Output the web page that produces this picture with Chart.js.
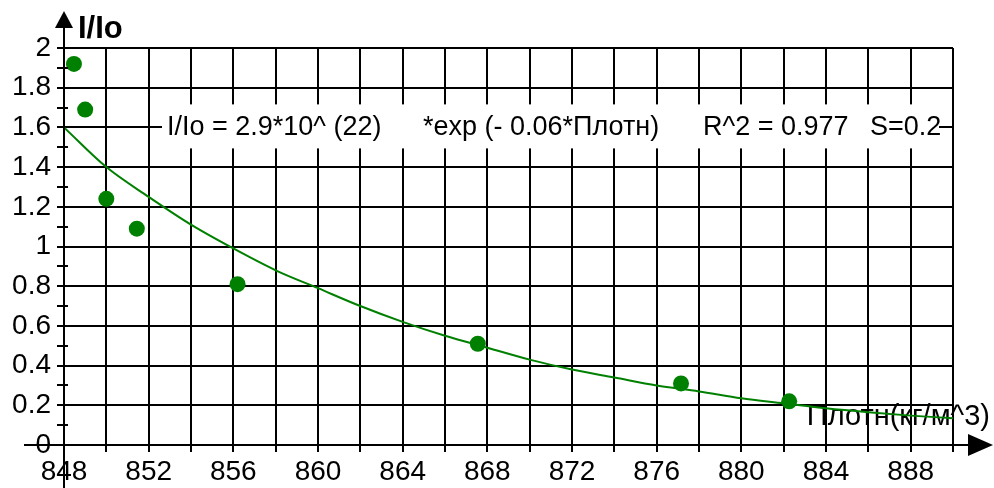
<!DOCTYPE html>
<html>
<head>
<meta charset="utf-8">
<script src="https://cdn.jsdelivr.net/npm/chart.js@4"></script>
<style>
    html, body { margin: 0; padding: 0; background: #fff; }
    #wrap { width: 994px; height: 488px; }
</style>
</head>
<body>
<div id="wrap"><canvas id="ratioChart" width="994" height="488"></canvas></div>
<script>
// Измерения: плотность (кг/м^3) и относительная интенсивность I/Io
const density = [848.47, 849.0, 850.0, 851.44, 856.2, 867.55, 877.15, 882.26];
const ratio = [1.92, 1.69, 1.24, 1.09, 0.81, 0.51, 0.31, 0.22];

// Аппроксимирующая кривая, снятая по узлам сетки
const fitDensity = [848, 850, 852, 854, 856, 858, 860, 862, 864, 866, 868, 870, 872, 874, 876, 878, 880, 882, 884, 886, 888, 890];
const fitRatio = [1.60, 1.40, 1.25, 1.11, 0.99, 0.88, 0.79, 0.70, 0.62, 0.55, 0.49, 0.43, 0.38, 0.34, 0.30, 0.27, 0.235, 0.21, 0.185, 0.165, 0.148, 0.135];

const xLabels = ['848', '852', '856', '860', '864', '868', '872', '876', '880', '884', '888'];
const fitText = ['I/Io = 2.9*10^ (22)', '*exp (- 0.06*Плотн)', 'R^2 = 0.977', 'S=0.2'];
const yTitle = 'I/Io';
const xTitle = 'Плотн(кг/м^3)';

const FONT = '"Liberation Sans", Arial, sans-serif';
const GREEN = '#008000';

const toXY = (xs, ys) => xs.map((x, i) => ({ x, y: ys[i] }));

// Подписи, стрелки осей и мелкие засечки
const decorPlugin = {
    id: 'decor',
    beforeDatasetsDraw(chart) {
        const { ctx, chartArea: a, scales: { y } } = chart;
        ctx.save();
        // плашка с уравнением регрессии поверх линии 1.6
        const yMid = y.getPixelForValue(1.6);
        ctx.fillStyle = '#fff';
        ctx.fillRect(a.left + 98, yMid - 23, a.right - a.left - 112, 44);
        ctx.fillStyle = '#000';
        ctx.font = '27px ' + FONT;
        ctx.textBaseline = 'middle';
        ctx.fillText(fitText[0], a.left + 103, yMid);
        ctx.fillText(fitText[1], a.left + 359, yMid);
        ctx.fillText(fitText[2], a.left + 639, yMid);
        ctx.fillText(fitText[3], a.left + 806, yMid);
        // подпись оси X
        ctx.font = '29px ' + FONT;
        ctx.textAlign = 'right';
        ctx.fillText(xTitle, chart.width - 4, a.bottom - 28);
        ctx.restore();
    },
    afterDraw(chart) {
        const { ctx, chartArea: a, scales: { y } } = chart;
        ctx.save();
        ctx.strokeStyle = '#000';
        ctx.fillStyle = '#000';
        ctx.lineWidth = 2;
        ctx.beginPath();
        ctx.moveTo(24, a.bottom);
        ctx.lineTo(975, a.bottom);
        ctx.moveTo(a.left, 26);
        ctx.lineTo(a.left, chart.height);
        // засечки через 0.1
        for (let v = 0.1; v < 2; v += 0.2) {
            const py = Math.round(y.getPixelForValue(v));
            ctx.moveTo(a.left - 7, py);
            ctx.lineTo(a.left + 4, py);
        }
        ctx.stroke();
        // стрелка вверх
        ctx.beginPath();
        ctx.moveTo(a.left, 11);
        ctx.lineTo(a.left - 9, 28);
        ctx.lineTo(a.left + 9, 28);
        ctx.closePath();
        ctx.fill();
        // стрелка вправо
        ctx.beginPath();
        ctx.moveTo(993, a.bottom);
        ctx.lineTo(968, a.bottom - 11);
        ctx.lineTo(968, a.bottom + 11);
        ctx.closePath();
        ctx.fill();
        // заголовок оси Y
        ctx.font = 'bold 31px ' + FONT;
        ctx.textBaseline = 'middle';
        ctx.fillText(yTitle, a.left + 14, 29);
        ctx.restore();
    }
};

new Chart(document.getElementById('ratioChart'), {
    data: {
        datasets: [{
            type: 'scatter',
            data: toXY(density, ratio),
            pointRadius: 8,
            pointHoverRadius: 8,
            backgroundColor: GREEN,
            borderWidth: 0
        }, {
            type: 'line',
            data: toXY(fitDensity, fitRatio),
            borderColor: GREEN,
            borderWidth: 2,
            pointRadius: 0,
            cubicInterpolationMode: 'monotone',
            fill: false
        }]
    },
    plugins: [decorPlugin],
    options: {
        responsive: false,
        animation: false,
        layout: { padding: { top: 48, right: 41, left: 0, bottom: 0 } },
        plugins: { legend: { display: false }, tooltip: { enabled: false } },
        scales: {
            x: {
                type: 'linear',
                min: 848,
                max: 890,
                afterFit: s => { s.height = 43; },
                afterBuildTicks: s => { s.ticks = fitDensity.map(v => ({ value: v })); },
                ticks: {
                    autoSkip: false,
                    maxRotation: 0,
                    padding: 3,
                    color: '#000',
                    font: { family: FONT, size: 28 },
                    callback: v => xLabels.includes(String(v)) ? String(v) : ''
                },
                grid: { color: '#000', lineWidth: 2, tickLength: 7 },
                border: { color: '#000', width: 2 }
            },
            y: {
                min: 0,
                max: 2,
                afterFit: s => { s.width = 64; },
                ticks: {
                    stepSize: 0.2,
                    padding: 6,
                    color: '#000',
                    font: { family: FONT, size: 28 },
                    callback: v => String(Math.round(v * 10) / 10)
                },
                grid: { color: '#000', lineWidth: 2, tickLength: 7 },
                border: { color: '#000', width: 2 }
            }
        }
    }
});
</script>
</body>
</html>
